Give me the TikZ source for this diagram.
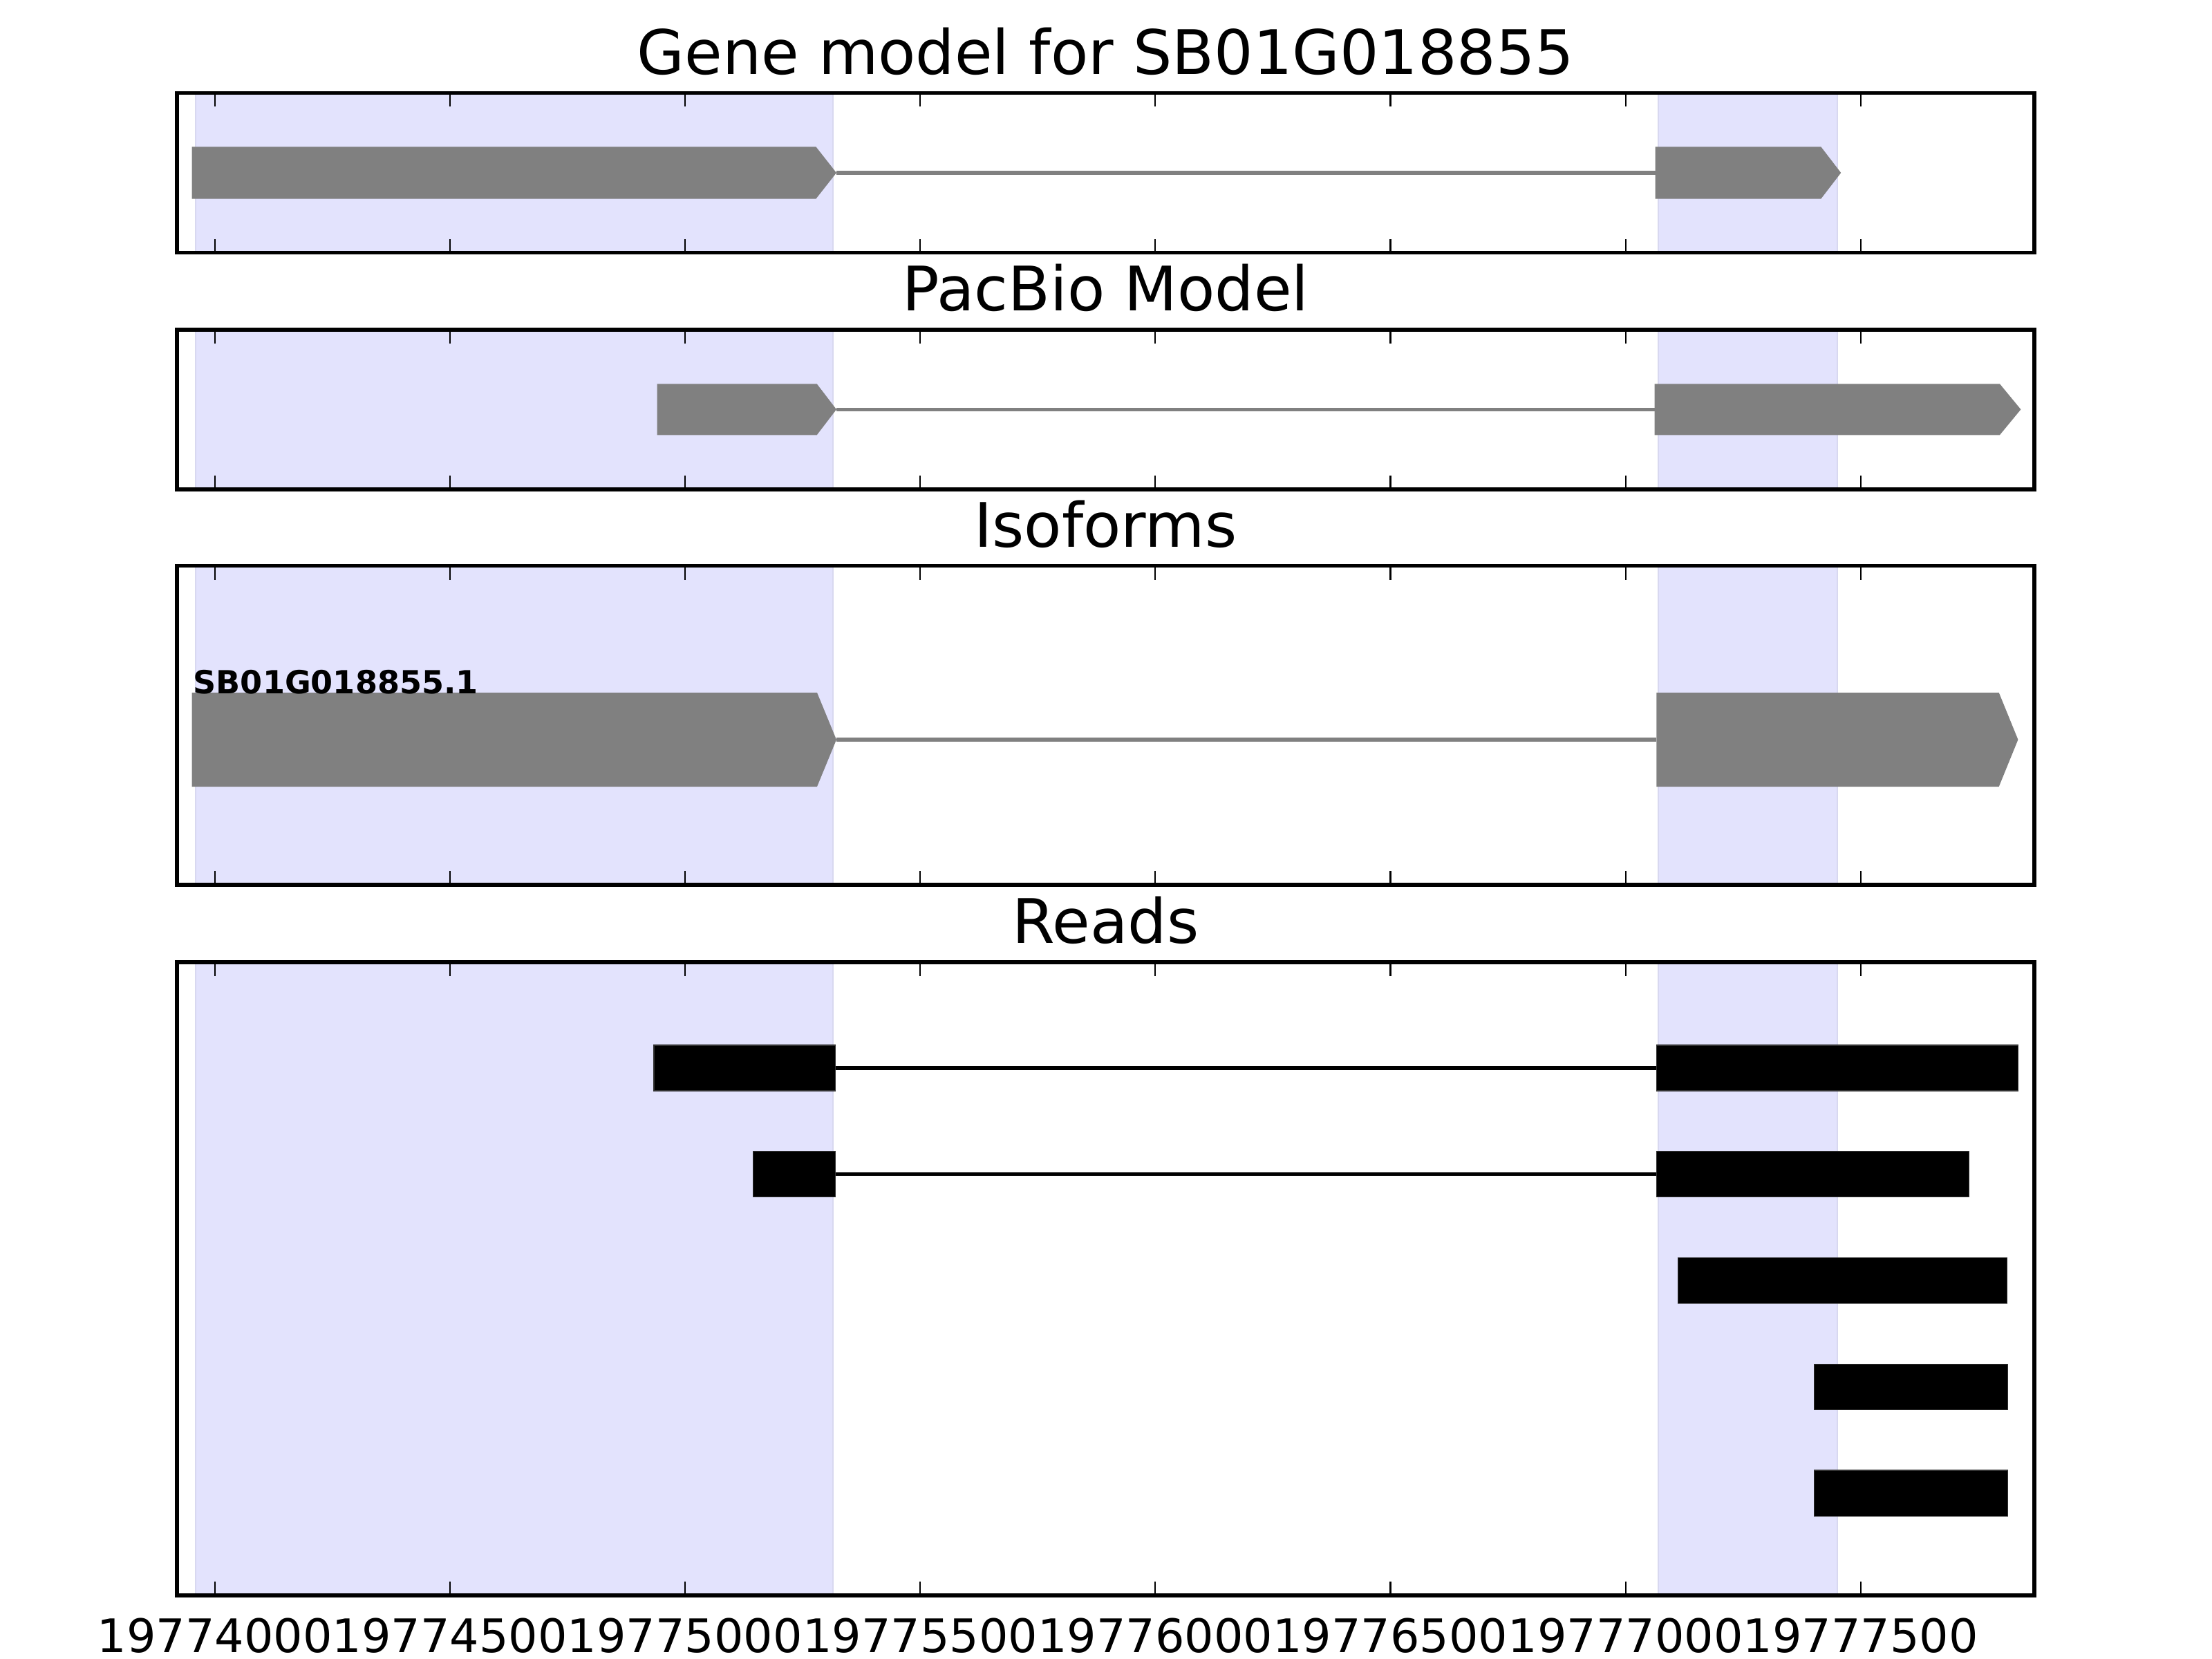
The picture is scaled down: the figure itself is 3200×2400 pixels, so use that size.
\documentclass[tikz,border=0pt]{standalone}
\usepackage{fontspec}
\setmainfont{DejaVu Sans}
\definecolor{shade}{RGB}{227,227,253}
\definecolor{shadeedge}{RGB}{216,216,240}
\definecolor{exongray}{RGB}{128,128,128}
\tikzset{
  frame/.style={draw=black, line width=1.55pt},
  tickmark/.style={draw=black, line width=0.62pt},
  span/.style={fill=shade, draw=shadeedge, line width=0.55pt},
  exon/.style={fill=exongray, draw=none},
  intron/.style={draw=exongray, line width=1.5pt},
  readbox/.style={fill=black, draw=black!80, line width=0.3pt},
  readline/.style={draw=black, line width=1.45pt},
  ttl/.style={font=\fontsize{25.25}{30}\selectfont, anchor=base, inner sep=0pt},
  ticklab/.style={font=\fontsize{19}{23}\selectfont, anchor=base, inner sep=0pt},
  isolab/.style={font=\bfseries\fontsize{13.1}{16}\selectfont, anchor=base west, inner sep=0pt},
}
% exon arrow: name, left x, shoulder x, tip x, centre y, half height
\newcommand\gexon[6]{%
  \fill[exon] (#2,{#5-#6}) -- (#3,{#5-#6}) -- (#4,#5) -- (#3,{#5+#6}) -- (#2,{#5+#6}) -- cycle;
  \coordinate (#1-l) at (#2,#5);
  \coordinate (#1-r) at (#4,#5);}
% read block: name, left x, right x, centre y
\newcommand\rblock[4]{%
  \filldraw[readbox] (#2,{#4-33}) rectangle (#3,{#4+33});
  \coordinate (#1-l) at (#2,#4);
  \coordinate (#1-r) at (#3,#4);}
\begin{document}
\begin{tikzpicture}[x=0.01cm, y=-0.01cm]
\useasboundingbox[fill=white] (0,0) rectangle (3200,2400);

% shaded spans
\foreach \t/\b in {134.5/365.5, 477/708, 818.5/1280, 1392/2308}{
  \filldraw[span] (282.6,\t) rectangle (1205,\b);
  \filldraw[span] (2399,\t) rectangle (2657.5,\b);
}

% ---- panel 1: gene model
\gexon{ga}{277.7}{1180.5}{1210}{250}{37.5}
\gexon{gb}{2394.5}{2634.4}{2663.2}{250}{37.5}
\draw[intron] (ga-r) -- (gb-l);

% ---- panel 2: PacBio model
\gexon{pa}{950.7}{1181.7}{1210}{592.3}{37}
\gexon{pb}{2393.5}{2892.9}{2923.4}{592.3}{37}
\draw[intron] (pa-r) -- (pb-l);

% ---- panel 3: isoforms
\gexon{ia}{277.5}{1182}{1210}{1070}{68}
\gexon{ib}{2396.3}{2891.7}{2919.4}{1070}{68}
\draw[intron] (ia-r) -- (ib-l);
\node[isolab] (isoname) at (279,1003.3) {SB01G018855.1};

% ---- panel 4: reads
\rblock{r1a}{946}{1208.7}{1545}
\rblock{r1b}{2396.4}{2919.6}{1545}
\draw[readline] (r1a-r) -- (r1b-l);
\rblock{r2a}{1089.3}{1208.7}{1698.5}
\rblock{r2b}{2396.4}{2848.7}{1698.5}
\draw[readline] (r2a-r) -- (r2b-l);
\rblock{r3}{2427.2}{2903.6}{1852.7}
\rblock{r4}{2624.1}{2904.5}{2006.6}
\rblock{r5}{2624.1}{2904.5}{2160}

% frames and ticks
\foreach \t/\b in {134.5/365.5, 477/708, 818.5/1280, 1392/2308}{
  \foreach \k in {0,...,7}{
    \draw[tickmark] ({310.7+340.16*\k},\t) -- ++(0,20);
    \draw[tickmark] ({310.7+340.16*\k},\b) -- ++(0,-20);
  }
  \draw[frame] (256,\t) rectangle (2943,\b);
}

% titles
\node[ttl] (t1) at (1599.5,107.3) {Gene model for SB01G018855};
\node[ttl] (t2) at (1599.5,449.5) {PacBio Model};
\node[ttl] (t3) at (1599.5,791.5) {Isoforms};
\node[ttl] (t4) at (1599.5,1364) {Reads};

% tick labels
\foreach \k/\lab in {0/19774000,1/19774500,2/19775000,3/19775500,4/19776000,5/19776500,6/19777000,7/19777500}{
  \node[ticklab] (tl\k) at ({310.7+340.16*\k},2390) {\lab};
}
\end{tikzpicture}
\end{document}
